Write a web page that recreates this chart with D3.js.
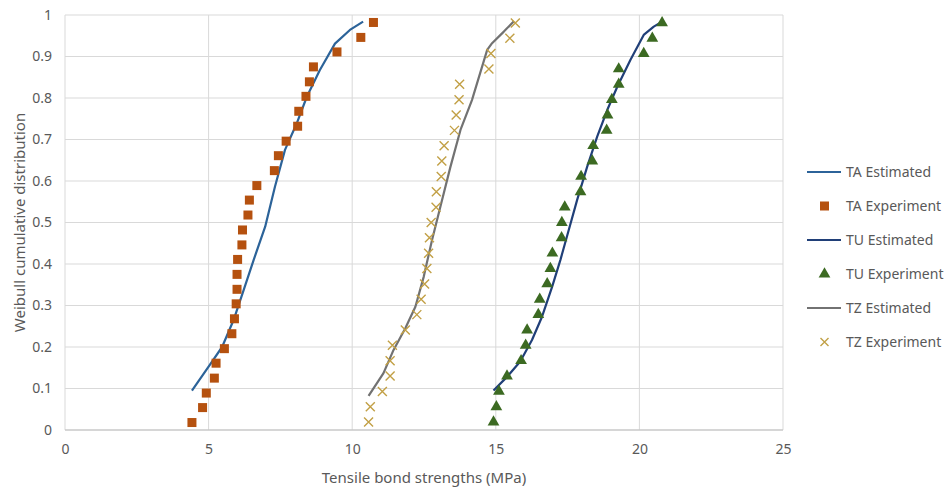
<!DOCTYPE html>
<html>
<head>
<meta charset="utf-8">
<script src="https://cdn.jsdelivr.net/npm/d3@7"></script>
<style>
  body { margin: 0; background: #fff; }
  svg text { font-family: "Noto Sans", "Open Sans", sans-serif; fill: #595959; }
</style>
</head>
<body>
<svg width="951" height="495"></svg>
<script>
// x ticks / y ticks
var xTicks = [0, 5, 10, 15, 20, 25];
var yTicks = [0, 0.1, 0.2, 0.3, 0.4, 0.5, 0.6, 0.7, 0.8, 0.9, 1];

// TA experiment (MPa, F)
var taExpX = [4.42, 4.79, 4.92, 5.20, 5.26, 5.55, 5.81, 5.90, 5.96, 5.99, 5.99, 6.01, 6.16, 6.18,
              6.37, 6.42, 6.68, 7.29, 7.43, 7.70, 8.10, 8.14, 8.39, 8.51, 8.65, 9.47, 10.30, 10.74];
var taExpY = [0.018, 0.054, 0.089, 0.125, 0.161, 0.196, 0.232, 0.268, 0.304, 0.339, 0.375, 0.411, 0.446, 0.482,
              0.518, 0.554, 0.589, 0.625, 0.661, 0.696, 0.732, 0.768, 0.804, 0.839, 0.875, 0.911, 0.946, 0.982];
// TA estimated
var taEstX = [4.42, 5.00, 5.47, 5.87, 6.22, 6.57, 6.97, 7.31, 7.66, 8.07, 8.42, 8.87, 9.40, 9.92, 10.38];
var taEstY = [0.095, 0.153, 0.200, 0.265, 0.337, 0.410, 0.490, 0.586, 0.675, 0.739, 0.803, 0.867, 0.931, 0.964, 0.984];

// TU experiment
var tuExpX = [14.92, 15.02, 15.11, 15.39, 15.88, 16.04, 16.09, 16.48, 16.53, 16.79, 16.90, 16.97, 17.29, 17.30,
              17.40, 17.95, 17.97, 18.36, 18.39, 18.86, 18.89, 19.04, 19.28, 19.28, 20.15, 20.45, 20.79];
var tuExpY = [0.019, 0.056, 0.093, 0.130, 0.167, 0.204, 0.241, 0.278, 0.315, 0.352, 0.389, 0.426, 0.463, 0.500,
              0.537, 0.574, 0.611, 0.648, 0.685, 0.722, 0.759, 0.796, 0.833, 0.870, 0.907, 0.944, 0.981];
// TU estimated
var tuEstX = [14.92, 15.39, 15.85, 16.26, 16.61, 16.96, 17.25, 17.54, 17.83, 18.18, 18.53, 18.88, 19.23, 19.69, 20.15, 20.50, 20.79];
var tuEstY = [0.095, 0.128, 0.165, 0.217, 0.273, 0.345, 0.410, 0.482, 0.554, 0.634, 0.707, 0.771, 0.827, 0.892, 0.952, 0.972, 0.984];

// TZ experiment
var tzExpX = [10.57, 10.63, 11.05, 11.32, 11.32, 11.40, 11.85, 12.25, 12.40, 12.52, 12.60, 12.66, 12.69, 12.75,
              12.92, 12.93, 13.10, 13.12, 13.20, 13.56, 13.62, 13.72, 13.74, 14.76, 14.83, 15.49, 15.68];
var tzExpY = [0.019, 0.056, 0.093, 0.130, 0.167, 0.204, 0.241, 0.278, 0.315, 0.352, 0.389, 0.426, 0.463, 0.500,
              0.537, 0.574, 0.611, 0.648, 0.685, 0.722, 0.759, 0.796, 0.833, 0.870, 0.907, 0.944, 0.981];
// TZ estimated
var tzEstX = [10.57, 11.09, 11.44, 11.85, 12.20, 12.49, 12.78, 13.07, 13.42, 13.77, 14.17, 14.70, 14.87, 15.28, 15.63];
var tzEstY = [0.082, 0.137, 0.193, 0.245, 0.297, 0.369, 0.458, 0.538, 0.634, 0.723, 0.795, 0.916, 0.932, 0.960, 0.985];

var legendLabels = ["TA Estimated", "TA Experiment", "TU Estimated", "TU Experiment", "TZ Estimated", "TZ Experiment"];

var colTAline = "#2c6399", colTU = "#203f78", colTZline = "#727272";
var colTA = "#b5510f", colGreen = "#3c6a22", colTZ = "#c2a046";

var svg = d3.select("svg"),
    margin = {top: 15, right: 168, bottom: 65, left: 65},
    width = +svg.attr("width") - margin.left - margin.right,
    height = +svg.attr("height") - margin.top - margin.bottom,
    g = svg.append("g").attr("transform", "translate(" + margin.left + "," + margin.top + ")");

var x = d3.scaleLinear().domain([0, 25]).range([0, width]);
var y = d3.scaleLinear().domain([0, 1]).range([height, 0]);

// gridlines
g.selectAll(".hgrid").data(yTicks).enter().append("line")
    .attr("x1", 0).attr("x2", width)
    .attr("y1", d => y(d)).attr("y2", d => y(d))
    .attr("stroke", "#d9d9d9").attr("stroke-width", 1);
g.selectAll(".vgrid").data(xTicks).enter().append("line")
    .attr("y1", 0).attr("y2", height)
    .attr("x1", d => x(d)).attr("x2", d => x(d))
    .attr("stroke", "#d9d9d9").attr("stroke-width", 1);
// bottom axis line
g.append("line").attr("x1", 0).attr("x2", width).attr("y1", height).attr("y2", height)
    .attr("stroke", "#bfbfbf").attr("stroke-width", 1.2);

// axes (labels only)
var xAxis = g.append("g").attr("transform", "translate(0," + height + ")")
    .call(d3.axisBottom(x).tickValues(xTicks).tickSize(0).tickPadding(14).tickFormat(d3.format("d")));
var yAxis = g.append("g")
    .call(d3.axisLeft(y).tickValues(yTicks).tickSize(0).tickPadding(13).tickFormat(d => d === 0 || d === 1 ? d : d3.format(".1f")(d)));
[xAxis, yAxis].forEach(a => {
    a.select(".domain").remove();
    a.selectAll("text").style("font-size", "14px").attr("fill", "#595959");
});

var line = d3.line().x(d => x(d[0])).y(d => y(d[1]));
function drawLine(xs, ys, col) {
    g.append("path").datum(d3.zip(xs, ys))
        .attr("d", line).attr("fill", "none")
        .attr("stroke", col).attr("stroke-width", 2.2).attr("stroke-linejoin", "round");
}
drawLine(taEstX, taEstY, colTAline);
drawLine(tuEstX, tuEstY, colTU);
drawLine(tzEstX, tzEstY, colTZline);

// markers
g.selectAll(".sq").data(d3.zip(taExpX, taExpY)).enter().append("rect")
    .attr("x", d => x(d[0]) - 4.5).attr("y", d => y(d[1]) - 4.5)
    .attr("width", 9).attr("height", 9).attr("fill", colTA);

var tri = d3.symbol().type(d3.symbolTriangle).size(60);
g.selectAll(".tri").data(d3.zip(tuExpX, tuExpY)).enter().append("path")
    .attr("d", tri).attr("transform", d => "translate(" + x(d[0]) + "," + y(d[1]) + ")")
    .attr("fill", colGreen);

g.selectAll(".cross").data(d3.zip(tzExpX, tzExpY)).enter().append("path")
    .attr("d", "M-4.5,-4.5L4.5,4.5M-4.5,4.5L4.5,-4.5")
    .attr("transform", d => "translate(" + x(d[0]) + "," + y(d[1]) + ")")
    .attr("stroke", colTZ).attr("stroke-width", 1.4).attr("fill", "none");

// axis titles
svg.append("text").attr("text-anchor", "middle")
    .attr("x", margin.left + width / 2).attr("y", 483)
    .style("font-size", "15px").text("Tensile bond strengths (MPa)");
svg.append("text").attr("text-anchor", "middle")
    .attr("transform", "rotate(-90)")
    .attr("x", -(margin.top + height / 2)).attr("y", 25)
    .style("font-size", "15px").text("Weibull cumulative distribution");

// legend
var legend = svg.append("g").attr("transform", "translate(807,172)");
var rowH = 34;
legendLabels.forEach((lab, i) => {
    var row = legend.append("g").attr("transform", "translate(0," + (i * rowH) + ")");
    if (i % 2 === 0) {
        row.append("line").attr("x1", 0).attr("x2", 34).attr("y1", 0).attr("y2", 0)
            .attr("stroke", [colTAline, colTU, colTZline][i / 2]).attr("stroke-width", 2.2);
    } else if (i === 1) {
        row.append("rect").attr("x", 13).attr("y", -4.5).attr("width", 9).attr("height", 9).attr("fill", colTA);
    } else if (i === 3) {
        row.append("path").attr("d", tri).attr("transform", "translate(17.5,0)").attr("fill", colGreen);
    } else {
        row.append("path").attr("d", "M-4,-4L4,4M-4,4L4,-4").attr("transform", "translate(17.5,0)")
            .attr("stroke", colTZ).attr("stroke-width", 1.4);
    }
    row.append("text").attr("x", 39).attr("y", 5).style("font-size", "14px").text(lab);
});
</script>
</body>
</html>
